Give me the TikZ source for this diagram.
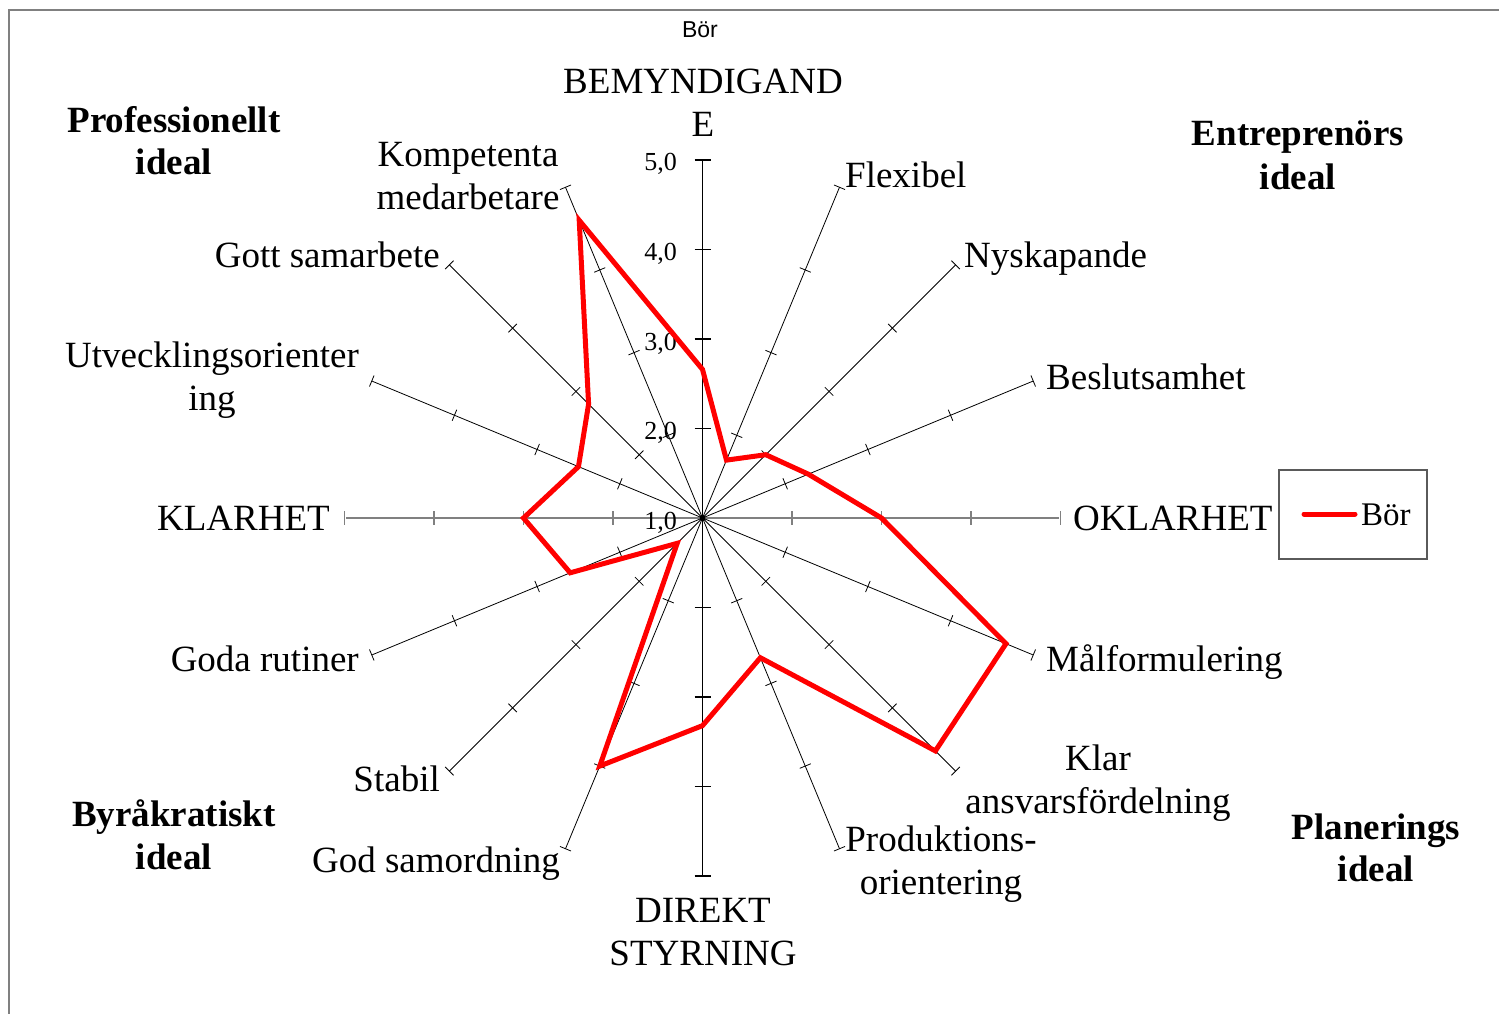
\documentclass[tikz,border=0pt]{standalone}
\usepackage{fontspec}
\setmainfont{Liberation Serif}
\newfontfamily\arialf{Liberation Sans}
\usetikzlibrary{calc}
\definecolor{framegray}{RGB}{128,128,128}
\definecolor{leggray}{RGB}{90,90,90}
\definecolor{serred}{RGB}{255,0,0}
\begin{document}
\begin{tikzpicture}[x=1pt,y=-1pt,
  lbl/.style={inner sep=0pt,font=\fontsize{37}{43}\selectfont},
  bld/.style={inner sep=0pt,font=\fontsize{37}{43}\selectfont\bfseries,anchor=base},
  num/.style={inner sep=0pt,font=\fontsize{26}{30}\selectfont,anchor=base east},
  axisline/.style={black,line width=0.8pt},
  tickline/.style={black,line width=0.8pt},
  serie/.style={draw=serred,line width=5pt,line join=miter}]
\useasboundingbox (0,0) rectangle (1499,1014);
\fill[white] (0,0) rectangle (1499,1014);
% outer frame (top and left only visible)
\draw[framegray,line width=2pt] (9,1014) -- (9,10) -- (1499,10);
\coordinate (C) at (702.5,518);
\def\U{89.5}
% diagonal axes
\foreach \a in {67.5,45,22.5,-22.5,-45,-67.5,-112.5,-135,-157.5,157.5,135,112.5}{
  \draw[axisline] (C) -- ($(C)+(\a:358pt)$);
  \foreach \k in {1,2,3,4}{
    \pgfmathsetmacro\r{\k*\U}
    \draw[tickline] ($(C)+(\a:\r pt)+(\a+90:6pt)$) -- ($(C)+(\a:\r pt)+(\a-90:6pt)$);
  }
}
% horizontal axis (grey)
\coordinate (hl) at (346,518);
\coordinate (hr) at (1059,518);
\draw[framegray,line width=2pt] (hl) -- (hr);
\foreach \k in {1,2,3,4}{
  \pgfmathsetmacro\r{\k*\U}
  \draw[framegray,line width=1.2pt] ($(C)+(0:\r pt)+(0,-7)$) -- ($(C)+(0:\r pt)+(0,7)$);
  \draw[framegray,line width=1.2pt] ($(C)+(180:\r pt)+(0,-7)$) -- ($(C)+(180:\r pt)+(0,7)$);
}
% vertical axis
\coordinate (vt) at (702.5,160);
\coordinate (vb) at (702.5,876);
\draw[black,line width=1.2pt] (vt) -- (vb);
\foreach \k in {1,2,3,4}{
  \pgfmathsetmacro\r{\k*\U}
  \draw[black,line width=1.2pt] ($(C)+(90:\r pt)+(-8,0)$) -- ($(C)+(90:\r pt)+(8,0)$);
  \draw[black,line width=1.2pt] ($(C)+(-90:\r pt)+(-8,0)$) -- ($(C)+(-90:\r pt)+(8,0)$);
}
\fill[black] (C) circle (3pt);
% scale numbers
\node[num] (n5) at (677,171) {5,0};
\node[num] (n4) at (677,260) {4,0};
\node[num] (n3) at (677,350) {3,0};
\node[num] (n2) at (677,439) {2,0};
\node[num] (n1) at (677,529) {1,0};
% data series
\foreach \a/\v [count=\i] in {90/2.66,67.5/1.70,45/2.0,22.5/2.28,0/3.0,-22.5/4.67,-45/4.68,-67.5/2.69,-90/3.32,-112.5/4.0,-135/1.40,-157.5/2.6,180/3.0,157.5/2.5,135/2.8,112.5/4.6}{
  \pgfmathsetmacro\r{(\v-1)*\U}
  \coordinate (p\i) at ($(C)+(\a:\r pt)$);
}
\draw[serie] (p1) -- (p2) -- (p3) -- (p4) -- (p5) -- (p6) -- (p7) -- (p8) -- (p9) -- (p10) -- (p11) -- (p12) -- (p13) -- (p14) -- (p15) -- (p16) -- cycle;
% axis labels
\node[lbl,anchor=base] (l1a) at (703,94) {BEMYNDIGAND};
\node[lbl,anchor=base] (l1b) at (703,137) {E};
\node[lbl,anchor=base west] (l2) at (845,187) {Flexibel};
\node[lbl,anchor=base west] (l3) at (964,267) {Nyskapande};
\node[lbl,anchor=base west] (l4) at (1046,389) {Beslutsamhet};
\node[lbl,anchor=base west] (l5) at (1073,530) {OKLARHET};
\node[lbl,anchor=base west] (l6) at (1046,671) {Målformulering};
\node[lbl,anchor=base] (l7a) at (1098,770) {Klar};
\node[lbl,anchor=base] (l7b) at (1098,813) {ansvarsfördelning};
\node[lbl,anchor=base] (l8a) at (941,851) {Produktions-};
\node[lbl,anchor=base] (l8b) at (941,894) {orientering};
\node[lbl,anchor=base] (l9a) at (703,922) {DIREKT};
\node[lbl,anchor=base] (l9b) at (703,965) {STYRNING};
\node[lbl,anchor=base east] (l10) at (560,872) {God samordning};
\node[lbl,anchor=base east] (l11) at (440,791) {Stabil};
\node[lbl,anchor=base east] (l12) at (359,671) {Goda rutiner};
\node[lbl,anchor=base east] (l13) at (330,530) {KLARHET};
\node[lbl,anchor=base] (l14a) at (212,367) {Utvecklingsorienter};
\node[lbl,anchor=base] (l14b) at (212,410) {ing};
\node[lbl,anchor=base east] (l15) at (440,267) {Gott samarbete};
\node[lbl,anchor=base] (l16a) at (468,166) {Kompetenta};
\node[lbl,anchor=base] (l16b) at (468,209) {medarbetare};
% quadrant labels
\node[bld] (q1a) at (174,132) {Professionellt};
\node[bld] (q1b) at (174,175) {ideal};
\node[bld] (q2a) at (1298,146) {Entreprenörs};
\node[bld] (q2b) at (1298,189) {ideal};
\node[bld] (q3a) at (174,826) {Byråkratiskt};
\node[bld] (q3b) at (174,869) {ideal};
\node[bld] (q4a) at (1376,839) {Planerings};
\node[bld] (q4b) at (1376,881) {ideal};
% title
\node[inner sep=0pt,anchor=base,font=\arialf\fontsize{23}{26}\selectfont] (title) at (700,38) {Bör};
% legend
\node[draw=leggray,line width=1.2pt,minimum width=148pt,minimum height=89pt,inner sep=0pt] (legbox) at (1353,514.5) {};
\coordinate (lega) at (1304,514);
\coordinate (legb) at (1355,514);
\draw[serred,line width=5pt,line cap=round] (lega) -- (legb);
\node[inner sep=0pt,anchor=base west,font=\fontsize{33}{38}\selectfont] (legtxt) at (1361,525) {Bör};
\end{tikzpicture}
\end{document}
